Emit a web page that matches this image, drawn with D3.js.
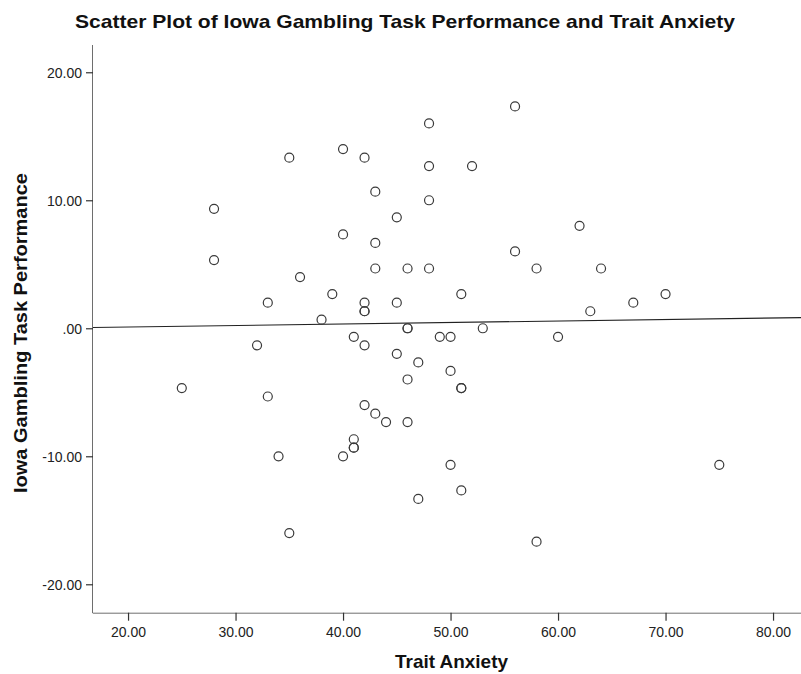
<!DOCTYPE html>
<html>
<head>
<meta charset="utf-8">
<script src="https://cdn.jsdelivr.net/npm/d3@7"></script>
<style>
  html, body { margin: 0; padding: 0; background: #fff; }
  svg { display: block; }
</style>
</head>
<body>
<svg id="chart" width="801" height="674"></svg>
<script>
// ---- data ----
const traitAnxiety = [48, 40, 35, 42, 48, 52, 56, 43, 28, 48, 45, 40, 62, 43, 56, 28,
  43, 46, 48, 58, 64, 36, 39, 51, 70, 33, 42, 45, 67, 42, 42, 63, 38, 46, 46, 53,
  41, 49, 50, 60, 32, 42, 45, 47, 50, 46, 25, 51, 51, 33, 42, 43, 44, 46, 41, 41,
  41, 34, 40, 50, 75, 51, 47, 35, 58];
const igtPerformance = [16, 14, 13.33, 13.33, 12.67, 12.67, 17.33, 10.67, 9.33, 10, 8.67, 7.33, 8, 6.67, 6, 5.33,
  4.67, 4.67, 4.67, 4.67, 4.67, 4, 2.67, 2.67, 2.67, 2, 2, 2, 2, 1.33, 1.33, 1.33, 0.67, 0, 0, 0,
  -0.67, -0.67, -0.67, -0.67, -1.33, -1.33, -2, -2.67, -3.33, -4, -4.67, -4.67, -4.67, -5.33, -6, -6.67, -7.33, -7.33, -8.67, -9.33,
  -9.33, -10, -10, -10.67, -10.67, -12.67, -13.33, -16, -16.67];
const xTicks = [20, 30, 40, 50, 60, 70, 80];
const xTickLabels = ["20.00", "30.00", "40.00", "50.00", "60.00", "70.00", "80.00"];
const yTicks = [-20, -10, 0, 10, 20];
const yTickLabels = ["-20.00", "-10.00", ".00", "10.00", "20.00"];
const xDomain = [16.74, 83];
const yDomain = [-22.22, 22.13];
const fitLine = [0.06, 0.84];   // fitted values at xDomain ends

const titleText = "Scatter Plot of Iowa Gambling Task Performance and Trait Anxiety";
const xLabel = "Trait Anxiety";
const yLabel = "Iowa Gambling Task Performance";

// ---- layout ----
const svg = d3.select("#chart");
const mLeft = 93, mBottom = 612.7, mTop = 45;
const x = d3.scaleLinear().domain(xDomain).range([mLeft, mLeft + (xDomain[1] - xDomain[0]) * 10.75]);
const y = d3.scaleLinear().domain(yDomain).range([mBottom, mTop]);

const axisColor = "#6e6e6e";
const font = "'Liberation Sans', Arial, sans-serif";

// clip
svg.append("defs").append("clipPath").attr("id", "plotclip")
  .append("rect").attr("x", mLeft).attr("y", mTop).attr("width", 801 - mLeft).attr("height", mBottom - mTop);

// x axis
const xAxis = d3.axisBottom(x).tickValues(xTicks).tickSize(8).tickSizeOuter(0)
  .tickFormat((d, i) => xTickLabels[i]);
const gx = svg.append("g").attr("transform", `translate(0,${mBottom})`).call(xAxis);
gx.select(".domain").attr("stroke", axisColor).attr("d", `M${mLeft},0.5H${801}`);
gx.selectAll(".tick line").attr("stroke", "#333").attr("stroke-width", 1.2);
gx.selectAll(".tick text").attr("font-family", font).attr("font-size", 14).attr("fill", "#222")
  .attr("dy", null).attr("y", 24.5);

// y axis
const yAxis = d3.axisLeft(y).tickValues(yTicks).tickSize(7).tickSizeOuter(0)
  .tickFormat((d, i) => yTickLabels[i]);
const gy = svg.append("g").attr("transform", `translate(${mLeft},0)`).call(yAxis);
gy.select(".domain").attr("stroke", axisColor).attr("d", `M-0.5,${mTop}V${mBottom + 0.5}`);
gy.selectAll(".tick line").attr("stroke", "#333").attr("stroke-width", 1.2);
gy.selectAll(".tick text").attr("font-family", font).attr("font-size", 14).attr("fill", "#222")
  .attr("x", -11).attr("dy", "0.36em");

// regression line
const plot = svg.append("g").attr("clip-path", "url(#plotclip)");
plot.append("line")
  .attr("x1", x(xDomain[0])).attr("y1", y(fitLine[0]))
  .attr("x2", x(xDomain[1])).attr("y2", y(fitLine[1]))
  .attr("stroke", "#222").attr("stroke-width", 1.1);

// points
const pts = traitAnxiety.map((v, i) => ({ x: v, y: igtPerformance[i] }));
plot.selectAll("circle").data(pts).enter().append("circle")
  .attr("cx", d => x(d.x)).attr("cy", d => y(d.y)).attr("r", 4.5)
  .attr("fill", "none").attr("stroke", "#3a3a3a").attr("stroke-width", 1.2);

// title
svg.append("text").attr("x", 405).attr("y", 28).attr("text-anchor", "middle")
  .attr("font-family", font).attr("font-weight", "bold").attr("font-size", 19)
  .attr("fill", "#111").attr("textLength", 660).attr("lengthAdjust", "spacingAndGlyphs")
  .text(titleText);

// x label
svg.append("text").attr("x", 451.5).attr("y", 668).attr("text-anchor", "middle")
  .attr("font-family", font).attr("font-weight", "bold").attr("font-size", 19)
  .attr("fill", "#111").attr("textLength", 113).attr("lengthAdjust", "spacingAndGlyphs")
  .text(xLabel);

// y label
svg.append("text").attr("transform", "translate(27,333) rotate(-90)").attr("text-anchor", "middle")
  .attr("font-family", font).attr("font-weight", "bold").attr("font-size", 18.5)
  .attr("fill", "#111").attr("textLength", 320).attr("lengthAdjust", "spacingAndGlyphs")
  .text(yLabel);
</script>
</body>
</html>
